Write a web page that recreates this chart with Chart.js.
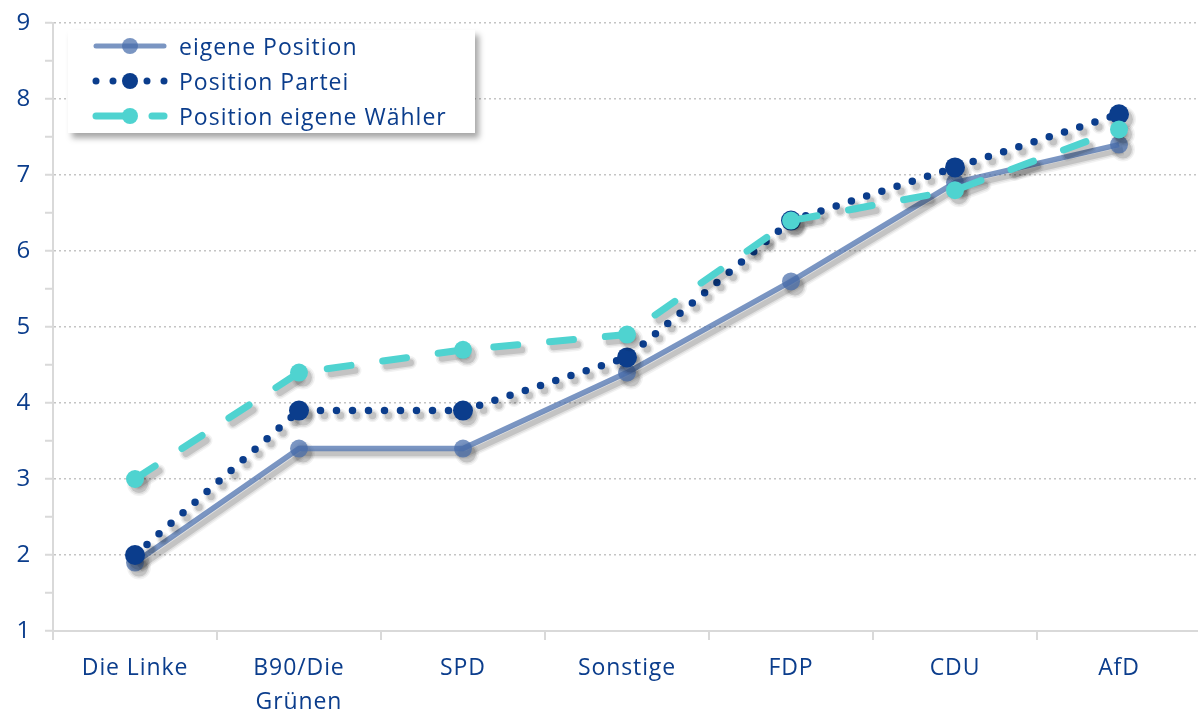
<!DOCTYPE html>
<html>
<head>
<meta charset="utf-8">
<script src="https://cdn.jsdelivr.net/npm/chart.js@4"></script>
<style>
  html,body{margin:0;padding:0;background:#fff;overflow:hidden;}
  #wrap{position:relative;width:1198px;height:713px;overflow:hidden;}
  #c{position:absolute;left:0;top:0;}
  #legend{position:absolute;left:68px;top:30px;width:407px;height:103px;background:#fff;
    box-shadow:4px 5px 6px rgba(0,0,0,0.35);font-family:"Open Sans",sans-serif;font-size:23px;letter-spacing:1px;color:#0b3d8c;}
  .item{position:absolute;left:22px;height:34px;display:flex;align-items:center;}
  .item svg{width:80px;height:24px;margin-right:9px;}
</style>
</head>
<body>
<div id="wrap">
  <canvas id="c" width="1211" height="713"></canvas>
  <div id="legend"></div>
</div>
<script>
const categories = ["Die Linke", ["B90/Die", "Grünen"], "SPD", "Sonstige", "FDP", "CDU", "AfD"];
const seriesNames = ["eigene Position", "Position Partei", "Position eigene Wähler"];
const eigenePosition = [1.9, 3.4, 3.4, 4.4, 5.6, 6.9, 7.4];
const positionPartei = [2.0, 3.9, 3.9, 4.6, 6.4, 7.1, 7.8];
const positionWaehler = [3.0, 4.4, 4.7, 4.9, 6.4, 6.8, 7.6];
const yTicks = [1, 2, 3, 4, 5, 6, 7, 8, 9];

const cEigene = "rgba(70,108,170,0.72)";
const cPartei = "#0b3d8c";
const cWaehler = "#4fd3d0";
const textColor = "#0b3d8c";

// soft drop shadow drawn from the library-computed element positions
const shadowPlugin = {
  id: "lineShadow",
  beforeDatasetDraw(chart, args) {
    const meta = args.meta;
    const ctx = chart.ctx;
    const lo = meta.dataset.options;
    const pts = meta.data;
    if (!pts.length) return;
    const passes = [{e: 6, a: 0.05}, {e: 3, a: 0.08}, {e: 0, a: 0.13}];
    ctx.save();
    ctx.translate(4, 5);
    for (const p of passes) {
      ctx.strokeStyle = `rgba(0,0,0,${p.a})`;
      ctx.lineWidth = lo.borderWidth + p.e;
      ctx.lineCap = lo.borderCapStyle || "butt";
      ctx.lineJoin = "round";
      ctx.setLineDash(lo.borderDash || []);
      ctx.beginPath();
      pts.forEach((pt, i) => i ? ctx.lineTo(pt.x, pt.y) : ctx.moveTo(pt.x, pt.y));
      ctx.stroke();
      ctx.setLineDash([]);
      ctx.fillStyle = `rgba(0,0,0,${p.a})`;
      pts.forEach((pt) => {
        ctx.beginPath();
        ctx.arc(pt.x, pt.y, pt.options.radius + p.e / 2, 0, Math.PI * 2);
        ctx.fill();
      });
    }
    ctx.restore();
  }
};

const spacingPlugin = {
  id: "spacing",
  beforeDraw(chart) { chart.ctx.letterSpacing = "0.9px"; }
};

new Chart(document.getElementById("c"), {
  type: "line",
  data: {
    labels: categories,
    datasets: [
      {label: seriesNames[0], data: eigenePosition, borderColor: cEigene, backgroundColor: cEigene,
       borderWidth: 5.5, pointRadius: 9, pointBorderWidth: 0, tension: 0, order: 3},
      {label: seriesNames[1], data: positionPartei, borderColor: cPartei, backgroundColor: cPartei,
       borderWidth: 7.5, borderDash: [0, 16], borderCapStyle: "round", pointRadius: 10, pointBorderWidth: 0, tension: 0, order: 2},
      {label: seriesNames[2], data: positionWaehler, borderColor: cWaehler, backgroundColor: cWaehler,
       borderWidth: 7, borderDash: [24, 32], borderCapStyle: "round", pointRadius: 9, pointBorderWidth: 0, tension: 0, order: 1}
    ]
  },
  options: {
    responsive: false,
    animation: false,
    layout: {padding: {top: 23, right: 0, left: 0, bottom: 0}},
    plugins: {legend: {display: false}, tooltip: {enabled: false}},
    scales: {
      x: {
        offset: true,
        grid: {offset: true, drawOnChartArea: false, color: "#d9d9d9", lineWidth: 2, tickLength: 9},
        border: {color: "#d9d9d9", width: 2},
        ticks: {color: textColor, font: {family: "Open Sans", size: 23, lineHeight: 1.5}, padding: 11, maxRotation: 0, autoSkip: false},
        afterFit(s) { s.height = 82; s.paddingLeft = 0; s.paddingRight = 0; }
      },
      y: {
        min: 1, max: 9,
        afterBuildTicks(s) {
          const t = [];
          for (let i = 0; i < yTicks.length; i++) {
            t.push({value: yTicks[i]});
            if (i < yTicks.length - 1) t.push({value: yTicks[i] + 0.5});
          }
          s.ticks = t;
        },
        grid: {
          color: (c) => (c.tick && Number.isInteger(c.tick.value) && c.tick.value !== 1) ? "#c4c4c4" : "rgba(0,0,0,0)",
          tickColor: "#d9d9d9",
          lineWidth: 1.5,
          tickLength: 8,
          tickWidth: 2
        },
        border: {color: "#d9d9d9", width: 2, dash: [2, 3]},
        ticks: {
          color: textColor, font: {family: "Open Sans", size: 24}, padding: 14,
          callback: (v) => Number.isInteger(v) ? String(v) : ""
        },
        afterFit(s) { s.width = 53; s.paddingTop = 0; s.paddingBottom = 0; }
      }
    }
  },
  plugins: [spacingPlugin, shadowPlugin]
});

// HTML legend
const legend = document.getElementById("legend");
const samples = [
  `<line x1="6" y1="12" x2="74" y2="12" stroke="${cEigene}" stroke-width="5" stroke-linecap="round"/><circle cx="40" cy="12" r="8" fill="${cEigene}"/>`,
  `<circle cx="6" cy="12" r="3.5" fill="${cPartei}"/><circle cx="23" cy="12" r="3.5" fill="${cPartei}"/><circle cx="40" cy="12" r="8" fill="${cPartei}"/><circle cx="57" cy="12" r="3.5" fill="${cPartei}"/><circle cx="74" cy="12" r="3.5" fill="${cPartei}"/>`,
  `<line x1="6" y1="12" x2="38" y2="12" stroke="${cWaehler}" stroke-width="7" stroke-linecap="round"/><line x1="62" y1="12" x2="74" y2="12" stroke="${cWaehler}" stroke-width="7" stroke-linecap="round"/><circle cx="40" cy="12" r="8" fill="${cWaehler}"/>`
];
seriesNames.forEach((n, i) => {
  const d = document.createElement("div");
  d.className = "item";
  d.style.top = (-1 + i * 35) + "px";
  d.innerHTML = `<svg viewBox="0 0 80 24">${samples[i]}</svg><span>${n}</span>`;
  legend.appendChild(d);
});
</script>
</body>
</html>
